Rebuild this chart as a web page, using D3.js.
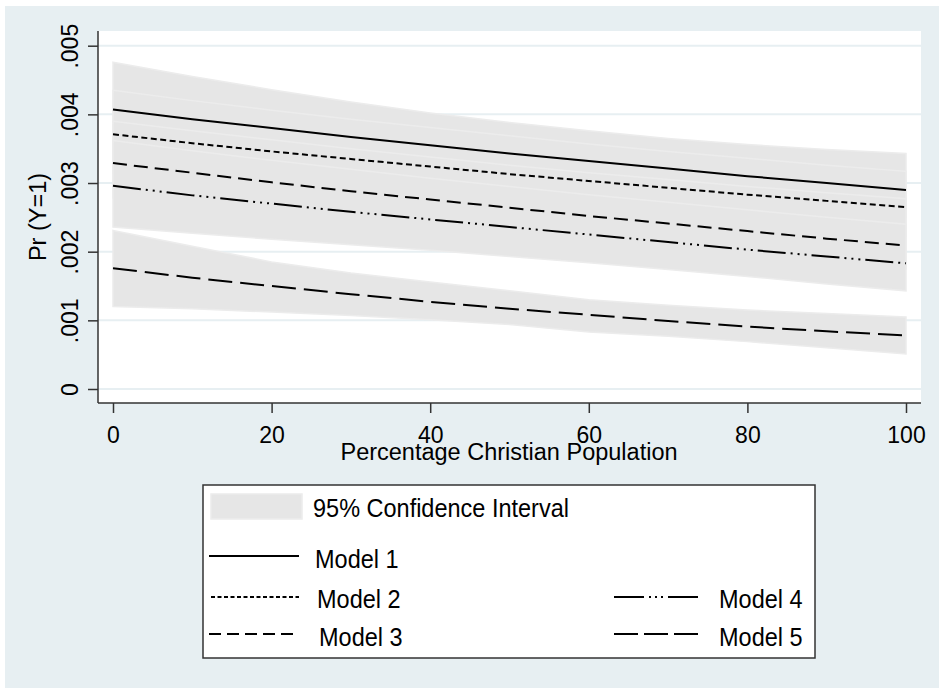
<!DOCTYPE html>
<html>
<head>
<meta charset="utf-8">
<script src="https://cdn.jsdelivr.net/npm/d3@7"></script>
<style>
  body { margin: 0; background: #ffffff; }
  text { font-family: "Liberation Sans", Arial, sans-serif; fill: #000; }
</style>
</head>
<body>
<script>
// Percentage Christian population (x values)
var pct = [0, 10, 20, 30, 40, 50, 60, 70, 80, 90, 100];

// Predicted probabilities, one array per model
var model1 = [0.00407, 0.00393, 0.00380, 0.00367, 0.00355, 0.00343, 0.00332, 0.00321, 0.00310, 0.00300, 0.00290];
var model2 = [0.00371, 0.00358, 0.00346, 0.00335, 0.00324, 0.00313, 0.00303, 0.00293, 0.00283, 0.00274, 0.00265];
var model3 = [0.00329, 0.00315, 0.00301, 0.00288, 0.00276, 0.00264, 0.00252, 0.00241, 0.00230, 0.00219, 0.00209];
var model4 = [0.00296, 0.00282, 0.00270, 0.00258, 0.00247, 0.00236, 0.00225, 0.00214, 0.00203, 0.00193, 0.00183];
var model5 = [0.00176, 0.00162, 0.00150, 0.00138, 0.00127, 0.00117, 0.00108, 0.00099, 0.00091, 0.00084, 0.00078];

// 95% confidence bounds
var model1Hi = [0.00476, 0.00455, 0.00436, 0.00418, 0.00402, 0.00388, 0.00376, 0.00365, 0.00356, 0.00349, 0.00343];
var model1Lo = [0.00353, 0.00342, 0.00331, 0.00320, 0.00310, 0.00300, 0.00291, 0.00281, 0.00272, 0.00261, 0.00251];
var model2Hi = [0.00435, 0.00420, 0.00406, 0.00393, 0.00381, 0.00369, 0.00357, 0.00346, 0.00336, 0.00326, 0.00317];
var model2Lo = [0.00315, 0.00305, 0.00296, 0.00287, 0.00278, 0.00269, 0.00260, 0.00251, 0.00242, 0.00233, 0.00223];
var model3Hi = [0.00390, 0.00376, 0.00363, 0.00350, 0.00338, 0.00326, 0.00315, 0.00305, 0.00295, 0.00286, 0.00277];
var model3Lo = [0.00278, 0.00266, 0.00254, 0.00243, 0.00232, 0.00222, 0.00212, 0.00202, 0.00193, 0.00184, 0.00175];
var model4Hi = [0.00362, 0.00347, 0.00333, 0.00320, 0.00307, 0.00295, 0.00283, 0.00272, 0.00261, 0.00250, 0.00240];
var model4Lo = [0.00236, 0.00227, 0.00218, 0.00210, 0.00202, 0.00193, 0.00184, 0.00174, 0.00164, 0.00153, 0.00143];
var model5Hi = [0.00231, 0.00208, 0.00185, 0.00169, 0.00156, 0.00143, 0.00130, 0.00122, 0.00115, 0.00110, 0.00105];
var model5Lo = [0.00120, 0.00117, 0.00112, 0.00107, 0.00101, 0.00094, 0.00083, 0.00077, 0.00069, 0.00060, 0.00051];

// Axis ticks
var xTicks = [0, 20, 40, 60, 80, 100];
var yTicks = [0, 0.001, 0.002, 0.003, 0.004, 0.005];
var yTickLabels = ["0", ".001", ".002", ".003", ".004", ".005"];

var modelNames = ["Model 1", "Model 2", "Model 3", "Model 4", "Model 5"];
var ciLabel = "95% Confidence Interval";

var width = 939, height = 688;
var bg = "#e7eff2";

var svg = d3.select("body")
  .append("svg")
    .attr("width", width)
    .attr("height", height);

// graph region
svg.append("rect")
  .attr("x", 5).attr("y", 6)
  .attr("width", width - 5).attr("height", height - 6)
  .attr("fill", bg);

// plot region
var plot = { left: 98, right: 921, top: 31, bottom: 403 };
svg.append("rect")
  .attr("x", plot.left).attr("y", plot.top)
  .attr("width", plot.right - plot.left).attr("height", plot.bottom - plot.top)
  .attr("fill", "#ffffff");

var x = d3.scaleLinear().domain([0, 100]).range([113, 906]);
var y = d3.scaleLinear().domain([0, 0.005]).range([389, 45.7]);

// grid lines
svg.append("g")
  .selectAll("line")
  .data(yTicks)
  .enter()
    .append("line")
    .attr("x1", plot.left).attr("x2", plot.right)
    .attr("y1", d => y(d)).attr("y2", d => y(d))
    .attr("stroke", bg)
    .attr("stroke-width", 2);

// confidence bands
var bands = [
  [model1Lo, model1Hi],
  [model2Lo, model2Hi],
  [model3Lo, model3Hi],
  [model4Lo, model4Hi],
  [model5Lo, model5Hi]
];

var area = d3.area()
  .x((d, i) => x(pct[i]))
  .y0(d => y(d[0]))
  .y1(d => y(d[1]));

svg.append("g")
  .selectAll("path")
  .data(bands)
  .enter()
    .append("path")
    .attr("d", b => area(pct.map((p, i) => [b[0][i], b[1][i]])))
    .attr("fill", "#e6e6e6")
    .attr("stroke", "#ececec")
    .attr("stroke-width", 1.5);

// model lines
var series = [model1, model2, model3, model4, model5];
var dashes = ["none", "6,3.5", "14,7", "28,5,2,5,2,5,2,5", "24,8"];

var line = d3.line()
  .x((d, i) => x(pct[i]))
  .y(d => y(d));

svg.append("g")
  .selectAll("path")
  .data(series)
  .enter()
    .append("path")
    .attr("d", d => line(d))
    .attr("fill", "none")
    .attr("stroke", "#000")
    .attr("stroke-width", 2)
    .attr("stroke-dasharray", (d, i) => dashes[i]);

// Add Y axis
var yAxis = svg.append("g")
  .attr("transform", "translate(" + plot.left + ",0)")
  .call(d3.axisLeft(y)
    .tickValues(yTicks)
    .tickSize(10)
    .tickFormat((d, i) => yTickLabels[i]));
yAxis.select(".domain").remove();
yAxis.selectAll("line").attr("stroke", "#333").attr("stroke-width", 1.5);
yAxis.selectAll("text")
  .attr("x", null).attr("dy", null)
  .attr("transform", "translate(-20,0) rotate(-90)")
  .style("text-anchor", "middle")
  .style("font-size", "23px")
  .attr("fill", "#000");

// Add X axis
var xAxis = svg.append("g")
  .attr("transform", "translate(0," + plot.bottom + ")")
  .call(d3.axisBottom(x)
    .tickValues(xTicks)
    .tickSize(10)
    .tickFormat(d3.format("d")));
xAxis.select(".domain").remove();
xAxis.selectAll("line").attr("stroke", "#333").attr("stroke-width", 1.5);
xAxis.selectAll("text")
  .attr("y", 40).attr("dy", null)
  .style("font-size", "23px")
  .attr("fill", "#000");

// axis lines
svg.append("line")
  .attr("x1", plot.left).attr("x2", plot.left)
  .attr("y1", plot.top).attr("y2", plot.bottom)
  .attr("stroke", "#333").attr("stroke-width", 1.5);
svg.append("line")
  .attr("x1", plot.left).attr("x2", plot.right)
  .attr("y1", plot.bottom).attr("y2", plot.bottom)
  .attr("stroke", "#333").attr("stroke-width", 1.5);

// axis titles
svg.append("text")
  .attr("transform", "translate(509,460)")
  .style("text-anchor", "middle")
  .style("font-size", "23.5px")
  .text("Percentage Christian Population");

svg.append("text")
  .attr("transform", "translate(46,217) rotate(-90)")
  .style("text-anchor", "middle")
  .style("font-size", "23.5px")
  .text("Pr (Y=1)");

// legend
var legend = svg.append("g");
legend.append("rect")
  .attr("x", 203).attr("y", 485)
  .attr("width", 612).attr("height", 173)
  .attr("fill", "#ffffff")
  .attr("stroke", "#333")
  .attr("stroke-width", 1.5);

legend.append("rect")
  .attr("x", 211).attr("y", 494)
  .attr("width", 91).attr("height", 25)
  .attr("fill", "#e6e6e6")
  .attr("stroke", "#ececec")
  .attr("stroke-width", 1.5);

legend.append("text")
  .attr("transform", "translate(313,517) scale(0.94,1)")
  .style("font-size", "25px")
  .text(ciLabel);

var legendItems = [
  { x1: 209, x2: 299, y: 556, tx: 315, ty: 568 },
  { x1: 211, x2: 299, y: 597, tx: 317, ty: 608 },
  { x1: 209, x2: 299, y: 634, tx: 319, ty: 646 },
  { x1: 614, x2: 701, y: 597, tx: 719, ty: 608 },
  { x1: 614, x2: 704, y: 634, tx: 719, ty: 646 }
];
var legendDashes = ["none", "4,2.5", "12,6", "30,5,2,4,2,4,2,5", "24,6"];

legendItems.forEach((d, i) => {
  legend.append("line")
    .attr("x1", d.x1).attr("x2", d.x2)
    .attr("y1", d.y).attr("y2", d.y)
    .attr("stroke", "#000")
    .attr("stroke-width", 2)
    .attr("stroke-dasharray", legendDashes[i]);
  legend.append("text")
    .attr("transform", "translate(" + d.tx + "," + d.ty + ") scale(0.94,1)")
    .style("font-size", "25px")
    .text(modelNames[i]);
});
</script>
</body>
</html>
